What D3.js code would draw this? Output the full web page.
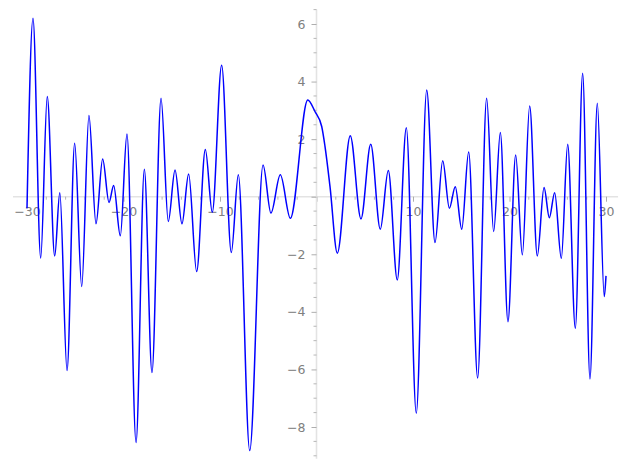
<!DOCTYPE html>
<html>
<head>
<meta charset="utf-8">
<script src="https://cdn.jsdelivr.net/npm/d3@7"></script>
<style>
  body { margin: 0; background: #fff; }
  svg { display: block; }
  .tick text { font-family: "DejaVu Sans", sans-serif; font-size: 12.5px; fill: #808080; }
</style>
</head>
<body>
<svg id="chart"></svg>
<script>
// points (mostly turning points)
const xVals = [-30, -29.38, -28.58, -27.9, -27.13, -26.6, -25.85, -25.06, -24.33, -23.58,
  -22.85, -22.16, -21.5, -21.02, -20.33, -19.64, -18.7, -17.84, -17.05, -16.11,
  -15.36, -14.66, -13.94, -13.25, -12.42, -11.52, -10.8, -9.83, -8.83, -8.1,
  -6.92, -5.54, -4.72, -3.75, -2.71, -0.91, -0.16, 0.54, 0.88, 1.4,
  2.16, 3.5, 4.61, 5.62, 6.61, 7.44, 8.37, 9.31, 10.34, 11.42,
  12.28, 13.08, 13.77, 14.38, 15.05, 15.77, 16.7, 17.63, 18.36, 19.05,
  19.84, 20.64, 21.33, 22.09, 22.88, 23.58, 24.13, 24.68, 25.37, 26.03,
  26.82, 27.58, 28.34, 29.1, 29.82, 30];
const yVals = [-0.4, 6.2, -2.13, 3.48, -2.06, 0.14, -6.04, 1.86, -3.12, 2.82,
  -0.94, 1.31, -0.2, 0.39, -1.36, 2.18, -8.54, 0.95, -6.11, 3.42,
  -0.86, 0.93, -0.94, 0.79, -2.6, 1.64, -0.54, 4.57, -1.94, 0.76,
  -8.82, 1.1, -0.57, 0.76, -0.75, 3.36, 2.96, 2.44, 1.75, 0.35,
  -1.96, 2.12, -0.77, 1.82, -1.13, 0.91, -2.89, 2.4, -7.52, 3.71,
  -1.59, 1.25, -0.4, 0.35, -1.13, 1.55, -6.3, 3.42, -1.21, 2.23,
  -4.34, 1.45, -2.02, 3.15, -2.06, 0.32, -0.73, 0.14, -2.14, 1.82,
  -4.57, 4.29, -6.33, 3.25, -3.47, -2.75];

const xMajor = [-30, -20, -10, 0, 10, 20, 30];
const yMajor = [-8, -6, -4, -2, 0, 2, 4, 6];

const width = 627, height = 470;
const fmt = d => d === 0 ? '' : (d < 0 ? '\u2212' + Math.abs(d) : String(d));

const svg = d3.select('#chart').attr('width', width).attr('height', height);

const x = d3.scaleLinear().domain([-30, 30]).range([27, 606]);
const y = d3.scaleLinear().domain([-8, 6]).range([427, 24]);

const axisColor = '#e3e3e3', tickColor = '#999';

// x axis
const gx = svg.append('g').attr('transform', `translate(0,${y(0)})`);
gx.append('line')
    .attr('x1', x(-31.45)).attr('x2', x(31.25))
    .attr('stroke', axisColor).attr('stroke-width', 1.6);
gx.selectAll('.minor')
    .data(d3.range(-30, 31, 2).filter(d => d % 10 !== 0))
    .enter().append('line')
        .attr('x1', d => x(d)).attr('x2', d => x(d))
        .attr('y1', 0).attr('y2', 3)
        .attr('stroke', tickColor).attr('stroke-width', 0.7);
gx.call(d3.axisBottom(x).tickValues(xMajor).tickFormat(fmt).tickSize(5).tickPadding(5))
    .call(g => g.select('.domain').remove())
    .call(g => g.selectAll('.tick line').attr('stroke', tickColor).attr('stroke-width', 0.8));

// y axis
const gy = svg.append('g').attr('transform', `translate(${x(0)},0)`);
gy.append('line')
    .attr('y1', y(6.5)).attr('y2', y(-9.1))
    .attr('stroke', axisColor).attr('stroke-width', 1.6);
gy.selectAll('.minor')
    .data(d3.range(-9, 6.6, 0.5).filter(d => d % 2 !== 0))
    .enter().append('line')
        .attr('y1', d => y(d)).attr('y2', d => y(d))
        .attr('x1', 0).attr('x2', -3)
        .attr('stroke', tickColor).attr('stroke-width', 0.7);
gy.call(d3.axisLeft(y).tickValues(yMajor).tickFormat(fmt).tickSize(5).tickPadding(6))
    .call(g => g.select('.domain').remove())
    .call(g => g.selectAll('.tick line').attr('stroke', tickColor).attr('stroke-width', 0.8));

// curve
const line = d3.line()
    .x((d, i) => x(xVals[i]))
    .y(d => y(d))
    .curve(d3.curveMonotoneX);

svg.append('path')
    .datum(yVals)
    .attr('d', line)
    .attr('fill', 'none')
    .attr('stroke', '#0000ff')
    .attr('stroke-width', 1.5);
</script>
</body>
</html>
